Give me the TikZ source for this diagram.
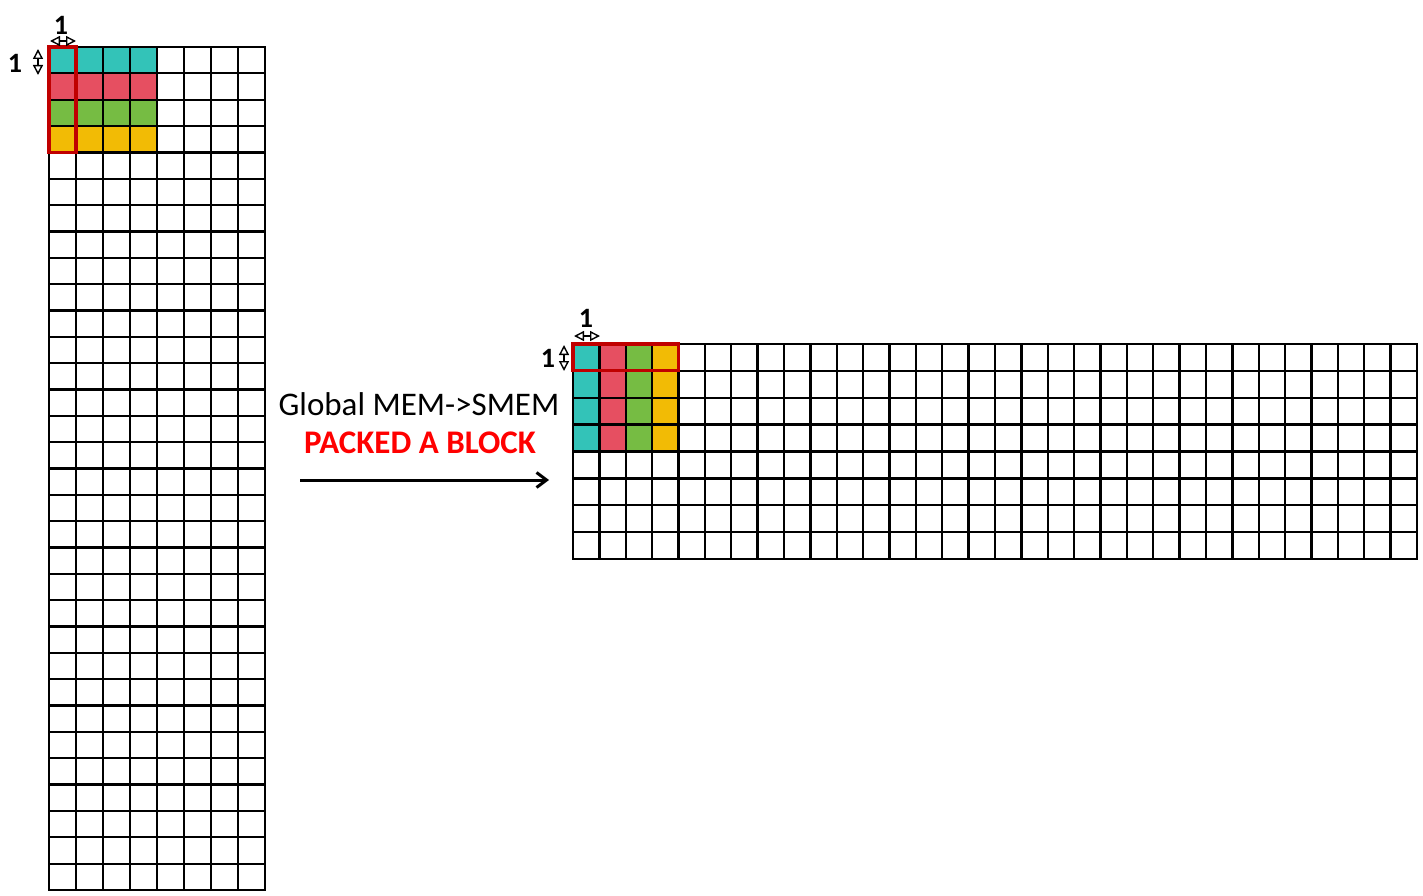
\documentclass[tikz,border=0pt]{standalone}
\usepackage{fontspec}
\setmainfont{Carlito}
\usetikzlibrary{arrows.meta}
\definecolor{cteal}{HTML}{33C3B8}
\definecolor{cred}{HTML}{E64F61}
\definecolor{cgreen}{HTML}{76BC43}
\definecolor{cyellow}{HTML}{F2BB05}
\definecolor{boxred}{HTML}{C00000}
\definecolor{txtred}{HTML}{FF0000}
\tikzset{
  gridline/.style={line width=2.3pt, black, line cap=rect},
  redbox/.style={line width=3.2pt, boxred},
  dim/.style={line width=1.4pt, {Triangle[open,length=10pt,width=10pt]}-{Triangle[open,length=10pt,width=10pt]}},
  onelabel/.style={font=\fontsize{28}{28}\selectfont\bfseries, inner sep=0pt},
  mainarrow/.style={line width=3pt, -{Straight Barb[length=10pt,width=15pt]}}
}
\begin{document}
\begin{tikzpicture}[x=1pt,y=-1pt]
\useasboundingbox (0,0) rectangle (1423,896);
% ---- left grid (8 cols x 32 rows)
\def\lx{49}\def\ly{47}\def\lw{27}\def\lh{26.34375}
\foreach \c/\col in {0/cteal,1/cred,2/cgreen,3/cyellow}{
  \fill[\col] (\lx,{\ly+\c*\lh}) rectangle ({\lx+4*\lw},{\ly+(\c+1)*\lh});
}
\foreach \i in {0,...,8} \draw[gridline] ({\lx+\lw*\i},\ly) -- ({\lx+\lw*\i},890);
\foreach \j in {0,...,32} \draw[gridline] (\lx,{\ly+\lh*\j}) -- (265,{\ly+\lh*\j});
\draw[redbox] (\lx,\ly) rectangle ({\lx+\lw},{\ly+4*\lh});
% ---- right grid (32 cols x 8 rows)
\def\rx{573}\def\ry{344}\def\rw{26.375}\def\rh{26.875}
\foreach \c/\col in {0/cteal,1/cred,2/cgreen,3/cyellow}{
  \fill[\col] ({\rx+\c*\rw},\ry) rectangle ({\rx+(\c+1)*\rw},{\ry+4*\rh});
}
\foreach \i in {0,...,32} \draw[gridline] ({\rx+\rw*\i},\ry) -- ({\rx+\rw*\i},559);
\foreach \j in {0,...,8} \draw[gridline] (\rx,{\ry+\rh*\j}) -- (1417,{\ry+\rh*\j});
\draw[redbox] (\rx,\ry) rectangle ({\rx+4*\rw},{\ry+\rh});
% ---- dimension marks left
\node[onelabel] (lt) at (61,25) {1};
\coordinate (lta) at (50,41); \coordinate (ltb) at (76,41);
\draw[dim] (lta) -- (ltb);
\node[onelabel] (ll) at (15,63) {1};
\coordinate (lla) at (38,49); \coordinate (llb) at (38,75);
\draw[dim] (lla) -- (llb);
% ---- dimension marks right
\node[onelabel] (rt) at (586,318) {1};
\coordinate (rta) at (574,336); \coordinate (rtb) at (600,336);
\draw[dim] (rta) -- (rtb);
\node[onelabel] (rl) at (548,358) {1};
\coordinate (rla) at (564,345); \coordinate (rlb) at (564,371);
\draw[dim] (rla) -- (rlb);
% ---- texts and arrow
\node[font=\fontsize{33}{33}\selectfont, inner sep=0pt] (t1) at (419,404) {Global MEM->SMEM};
\node[font=\fontsize{33}{33}\selectfont\bfseries, text=txtred, inner sep=0pt] (t2) at (420,443) {PACKED A BLOCK};
\coordinate (as) at (300,480); \coordinate (ae) at (549,480);
\draw[mainarrow] (as) -- (ae);
\end{tikzpicture}
\end{document}
